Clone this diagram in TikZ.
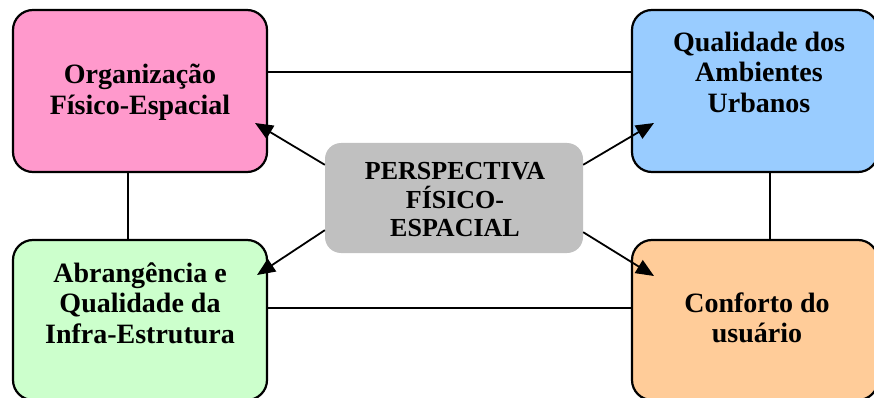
\documentclass[tikz,border=0pt]{standalone}
\usepackage{fontspec}
\setmainfont{Liberation Serif}
\usetikzlibrary{arrows.meta}
\definecolor{cpink}{HTML}{FF99CC}
\definecolor{cblue}{HTML}{99CCFF}
\definecolor{cgreen}{HTML}{CCFFCC}
\definecolor{cpeach}{HTML}{FFCC99}
\definecolor{cgray}{HTML}{C0C0C0}
\tikzset{
  boxstyle/.style={draw=black, line width=2.2pt, rounded corners=20pt, inner sep=0pt, rectangle},
  centerbox/.style={fill=cgray, rounded corners=16pt, inner sep=0pt, rectangle},
  boxtext/.style={align=center, inner sep=0pt, font=\fontsize{28}{30.5}\selectfont\bfseries},
  centertext/.style={align=center, inner sep=0pt, font=\fontsize{26}{28.5}\selectfont\bfseries},
  link/.style={line width=1.8pt, draw=black},
  arr/.style={line width=1.8pt, draw=black, -{Triangle[length=18pt,width=15pt]}}
}
\begin{document}
\begin{tikzpicture}[x=1pt,y=-1pt]
\useasboundingbox (0,0) rectangle (874,398);
\begin{scope}
\clip (0,0) rectangle (874,398);
% boxes
\node[boxstyle, fill=cpink, minimum width=254pt, minimum height=162pt] (tl) at (140,91) {};
\node[boxstyle, fill=cblue, minimum width=246pt, minimum height=162pt] (tr) at (755,91) {};
\node[boxstyle, fill=cgreen, minimum width=254pt, minimum height=160pt] (bl) at (140,320) {};
\node[boxstyle, fill=cpeach, minimum width=246pt, minimum height=160pt] (br) at (755,320) {};
\node[centerbox, minimum width=258pt, minimum height=110pt] (c) at (454,198) {};
% connecting lines
\draw[link] ([yshift=19pt]tl.east) -- ([yshift=19pt]tr.west);
\draw[link] ([yshift=12pt]bl.east) -- ([yshift=12pt]br.west);
\draw[link] ([xshift=-12pt]tl.south) -- ([xshift=-12pt]bl.north);
\draw[link] ([xshift=15pt]tr.south) -- ([xshift=15pt]br.north);
% arrows
\coordinate (tltip) at (255,123);
\coordinate (trtip) at (654,123);
\coordinate (bltip) at (257,275);
\coordinate (brtip) at (654,276);
\draw[arr] ([yshift=-22pt]c.north west) -- (tltip);
\draw[arr] ([yshift=-22pt]c.north east) -- (trtip);
\draw[arr] ([yshift=23pt]c.south west) -- (bltip);
\draw[arr] ([yshift=21pt]c.south east) -- (brtip);
% texts
\node[boxtext] (tlt) at (140,92) {Organização\\Físico-Espacial};
\node[boxtext] (trt) at (759,72) {Qualidade dos\\Ambientes\\Urbanos};
\node[boxtext] (blt) at (140,303) {Abrangência e\\Qualidade da\\Infra-Estrutura};
\node[boxtext] (brt) at (757,318) {Conforto do\\usuário};
\node[centertext] (ct) at (455,200) {PERSPECTIVA\\FÍSICO-\\ESPACIAL};
\end{scope}
\end{tikzpicture}
\end{document}
